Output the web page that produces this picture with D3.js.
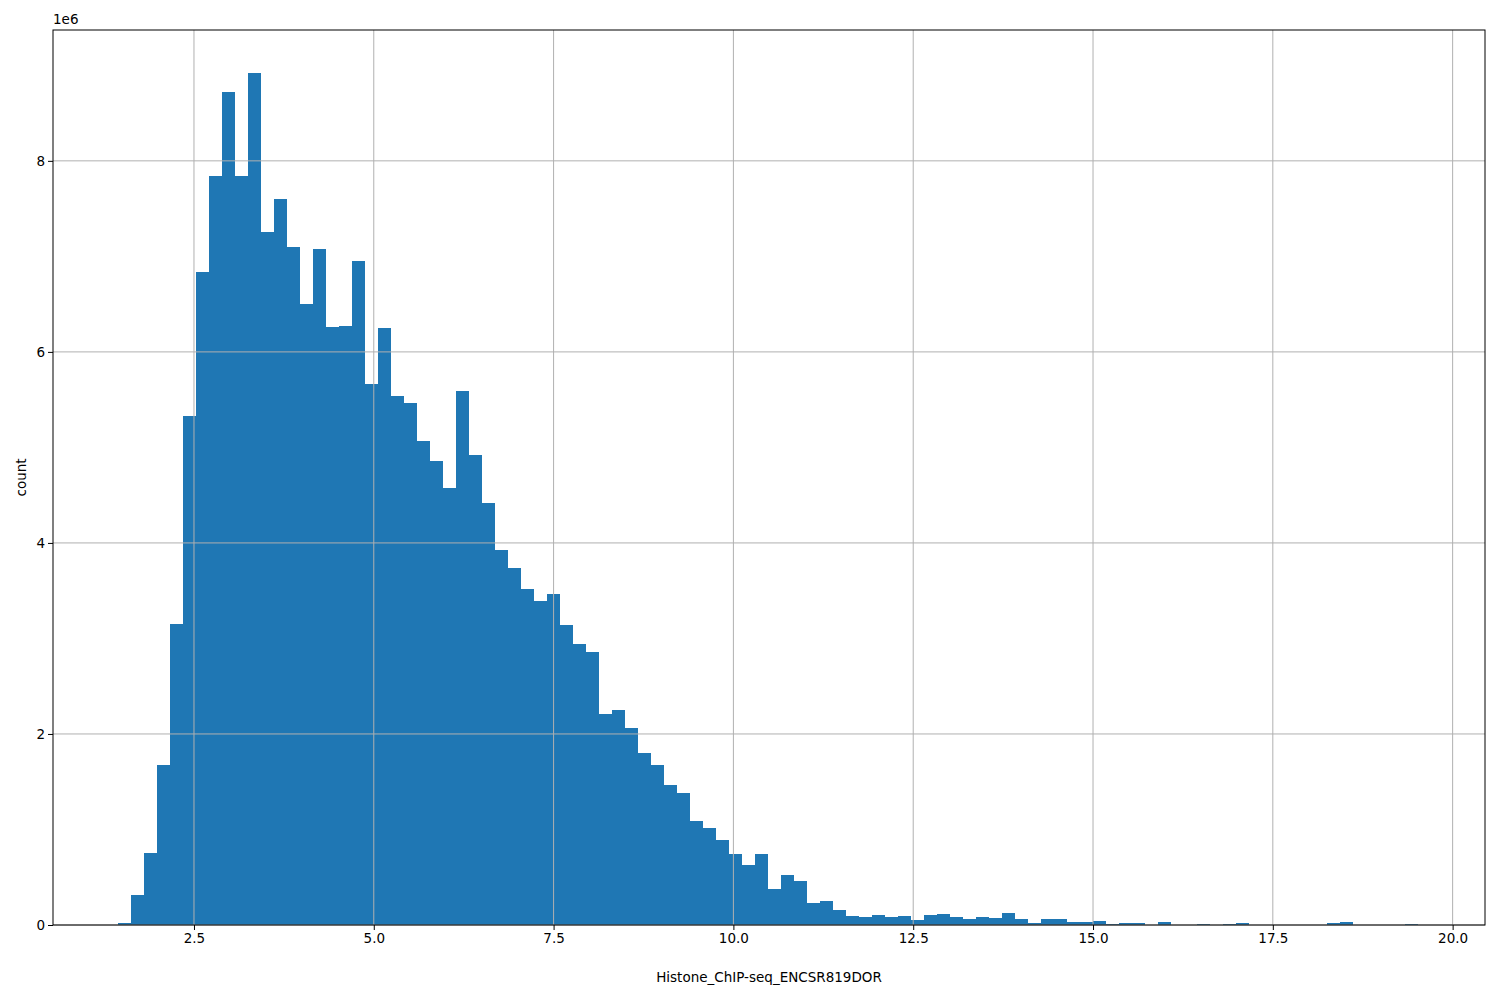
<!DOCTYPE html>
<html>
<head>
<meta charset="utf-8">
<script src="https://d3js.org/d3.v7.min.js"></script>
<style>body{margin:0;} text{font-family:"DejaVu Sans",sans-serif;}</style>
</head>
<body>
<svg id="fig" width="1500" height="1000"></svg>
<script>
// histogram bins: start, width, counts (millions)
const binStart = 1.443;
const binWidth = 0.1807;
const counts = [0.02,0.31,0.75,1.68,3.15,5.33,6.84,7.84,8.72,7.84,
                8.92,7.26,7.60,7.10,6.50,7.08,6.26,6.27,6.95,5.66,
                6.25,5.54,5.47,5.07,4.86,4.58,5.59,4.92,4.42,3.93,
                3.74,3.52,3.39,3.47,3.14,2.94,2.86,2.21,2.25,2.06,
                1.80,1.68,1.47,1.38,1.09,1.02,0.89,0.74,0.63,0.74,
                0.38,0.52,0.46,0.23,0.25,0.16,0.09,0.08,0.10,0.08,
                0.09,0.05,0.10,0.12,0.08,0.06,0.08,0.07,0.13,0.06,
                0.02,0.06,0.06,0.03,0.03,0.04,0.01,0.02,0.02,0,
                0.03,0,0,0.01,0,0.01,0.02,0,0,0,
                0,0,0,0.02,0.03,0,0,0,0,0.01];
const xTicks = [2.5,5.0,7.5,10.0,12.5,15.0,17.5,20.0];
const yTicks = [0,2,4,6,8];

const svg = d3.select("#fig");
const margin = {left:53, top:30, right:15, bottom:75};
const W = 1500, H = 1000;

const x = d3.scaleLinear().domain([0.54, 20.45]).range([margin.left, W - margin.right]);
const y = d3.scaleLinear().domain([0, 9.37]).range([H - margin.bottom, margin.top]);

// bars
svg.append("g").selectAll("rect").data(counts).join("rect")
   .attr("x", (d, i) => x(binStart + i * binWidth))
   .attr("width", x(binWidth) - x(0))
   .attr("y", d => y(d))
   .attr("height", d => y(0) - y(d))
   .attr("fill", "#1f77b4")
   .attr("shape-rendering", "crispEdges");

// grid (drawn above bars, like the original)
svg.append("g").selectAll("line").data(xTicks).join("line")
   .attr("x1", d => x(d)).attr("x2", d => x(d))
   .attr("y1", margin.top).attr("y2", H - margin.bottom)
   .attr("stroke", "#b0b0b0").attr("stroke-width", 1);
svg.append("g").selectAll("line").data(yTicks).join("line")
   .attr("x1", margin.left).attr("x2", W - margin.right)
   .attr("y1", d => y(d)).attr("y2", d => y(d))
   .attr("stroke", "#b0b0b0").attr("stroke-width", 1);

// axes
const xg = svg.append("g").attr("transform", `translate(0,${H - margin.bottom})`)
   .call(d3.axisBottom(x).tickValues(xTicks).tickFormat(d3.format(".1f")).tickSize(5).tickSizeOuter(0));
const yg = svg.append("g").attr("transform", `translate(${margin.left},0)`)
   .call(d3.axisLeft(y).tickValues(yTicks).tickFormat(d3.format("d")).tickSize(5).tickSizeOuter(0));
[xg, yg].forEach(g => {
  g.selectAll("text").attr("font-size", 13.5).attr("fill", "#000");
  g.selectAll(".tick line").attr("stroke", "#000");
  g.select(".domain").remove();
});

// frame
svg.append("rect").attr("x", margin.left).attr("y", margin.top)
   .attr("width", W - margin.left - margin.right).attr("height", H - margin.top - margin.bottom)
   .attr("fill", "none").attr("stroke", "#000").attr("stroke-width", 1);

svg.append("text").attr("x", margin.left).attr("y", margin.top - 6)
   .attr("font-size", 13.5).text("1e6");
svg.append("text").attr("x", (margin.left + W - margin.right) / 2).attr("y", 982)
   .attr("text-anchor", "middle").attr("font-size", 13.5).text("Histone_ChIP-seq_ENCSR819DOR");
svg.append("text").attr("transform", `translate(26,${(margin.top + H - margin.bottom) / 2}) rotate(-90)`)
   .attr("text-anchor", "middle").attr("font-size", 13.5).text("count");
</script>
</body>
</html>
